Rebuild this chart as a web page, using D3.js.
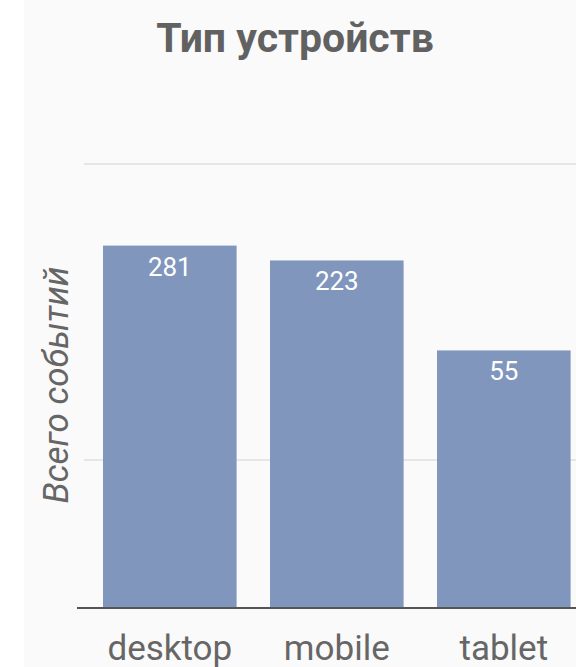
<!DOCTYPE html>
<html>
<head>
<meta charset="utf-8">
<script src="https://cdn.jsdelivr.net/npm/d3@7"></script>
<style>
  html, body { margin: 0; padding: 0; background: #ffffff; }
  svg { display: block; font-family: Roboto, "Noto Sans", sans-serif; }
</style>
</head>
<body>
<script>
// data
var categories = ["desktop", "mobile", "tablet"];
var values = [281, 223, 55];
var gridValues = [10, 1000];
var title = "Тип устройств";
var yTitle = "Всего событий";

var width = 576, height = 667;

var svg = d3.select("body").append("svg")
  .attr("width", width)
  .attr("height", height);

// light panel behind the chart
svg.append("rect")
  .attr("x", 24).attr("y", 0)
  .attr("width", width - 24).attr("height", height)
  .attr("fill", "#fafafa");

// log scale, baseline at 1
var y = d3.scaleLog()
  .domain([1, 1000])
  .range([608, 164]);

var x = d3.scaleBand()
  .domain(categories)
  .range([86.3, 587.3])
  .paddingInner(0.2)
  .paddingOuter(0.1);

// gridlines
svg.append("g").selectAll("line")
  .data(gridValues)
  .enter()
    .append("line")
    .attr("x1", 84).attr("x2", width)
    .attr("y1", function(d){return y(d);})
    .attr("y2", function(d){return y(d);})
    .attr("stroke", "#e6e6e6")
    .attr("stroke-width", 2);

// bars
svg.append("g").selectAll("rect")
  .data(values)
  .enter()
    .append("rect")
    .attr("x", function(d,i){return x(categories[i]);})
    .attr("y", function(d){return y(d);})
    .attr("width", x.bandwidth())
    .attr("height", function(d){return y(1) - y(d);})
    .attr("fill", "#8096bd");

// value labels inside bars
svg.append("g").selectAll("text")
  .data(values)
  .enter()
    .append("text")
    .attr("x", function(d,i){return x(categories[i]) + x.bandwidth()/2;})
    .attr("y", function(d){return y(d) + 30;})
    .attr("text-anchor", "middle")
    .attr("fill", "#ffffff")
    .attr("font-size", 26)
    .text(function(d){return d;});

// x axis
var xAxis = d3.axisBottom(x).tickSize(0).tickPadding(27);
var xg = svg.append("g")
  .attr("transform", "translate(0," + y(1) + ")")
  .call(xAxis);
xg.select(".domain").remove();
xg.selectAll("text")
  .attr("fill", "#666666")
  .attr("font-size", 35)
  .attr("font-family", "Roboto, sans-serif");

svg.append("line")
  .attr("x1", 77).attr("x2", width)
  .attr("y1", y(1)).attr("y2", y(1))
  .attr("stroke", "#555555")
  .attr("stroke-width", 2);

// title
svg.append("text")
  .attr("x", 295).attr("y", 52)
  .attr("text-anchor", "middle")
  .attr("fill", "#616161")
  .attr("font-weight", "bold")
  .attr("font-size", 41)
  .text(title);

// y axis title
svg.append("text")
  .attr("transform", "translate(68,385) rotate(-90)")
  .attr("text-anchor", "middle")
  .attr("fill", "#666666")
  .attr("font-style", "italic")
  .attr("font-size", 35)
  .text(yTitle);
</script>
</body>
</html>
